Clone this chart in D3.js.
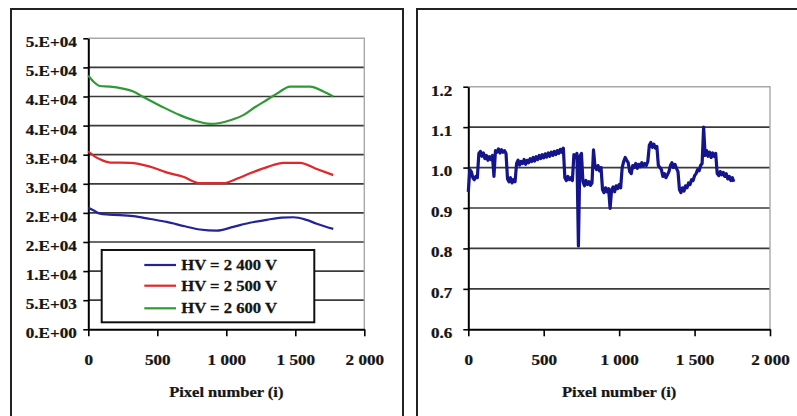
<!DOCTYPE html>
<html>
<head>
<meta charset="utf-8">
<script src="https://cdn.jsdelivr.net/npm/d3@7"></script>
<style>
  html, body { margin: 0; padding: 0; background: #fff; }
  svg { display: block; }
  text { font-family: "Liberation Serif", "Times New Roman", serif; font-weight: bold; font-size: 14px;
         fill: #151515; stroke: #151515; stroke-width: 0.25px; }
</style>
</head>
<body>
<svg id="chart" width="797" height="416"></svg>
<script>
// ---- data ----
const pixelTicks = [0, 500, 1000, 1500, 2000];
const pixelTickLabels = ["0", "500", "1 000", "1 500", "2 000"];

const countTicks = [0, 5000, 10000, 15000, 20000, 25000, 30000, 35000, 40000, 45000, 50000];
const countTickLabels = ["0.E+00", "5.E+03", "1.E+04", "2.E+04", "2.E+04", "3.E+04",
                         "3.E+04", "4.E+04", "4.E+04", "5.E+04", "5.E+04"];

const ratioTicks = [0.6, 0.7, 0.8, 0.9, 1.0, 1.1, 1.2];
const ratioTickLabels = ["0.6", "0.7", "0.8", "0.9", "1.0", "1.1", "1.2"];

const axisTitle = "Pixel number (i)";
const hvLabels = ["HV = 2 400 V", "HV = 2 500 V", "HV = 2 600 V"];

// detector response per pixel at three high-voltage settings
const hv2400Pixel = [0, 40, 85, 150, 326, 450, 568, 700, 809, 930, 1051, 1170, 1293, 1400, 1486, 1580, 1655, 1775];
const hv2400Count = [20900, 20400, 19850, 19700, 19450, 18950, 18450, 17700, 17150, 16950, 17600, 18300, 18800, 19200, 19250, 18800, 18150, 17250];

const hv2500Pixel = [0, 40, 85, 157, 302, 447, 560, 688, 809, 978, 1080, 1172, 1300, 1413, 1534, 1650, 1775];
const hv2500Count = [30600, 29800, 29200, 28650, 28600, 27950, 27000, 26200, 25100, 25100, 25900, 26800, 27900, 28600, 28600, 27600, 26500];

const hv2600Pixel = [0, 40, 85, 157, 250, 326, 399, 530, 664, 780, 882, 954, 1040, 1123, 1210, 1293, 1380, 1462, 1607, 1700, 1775];
const hv2600Count = [43600, 42500, 41800, 41700, 41350, 40850, 39900, 38300, 36800, 35800, 35300, 35450, 36000, 36800, 38200, 39400, 40700, 41700, 41700, 40900, 40000];

// pixel-to-pixel ratio, one sample every 10 pixels
const ratioStep = 10;
const ratioValues = [
  0.940, 0.995, 0.990, 0.975, 0.970, 0.978, 0.975, 1.035, 1.040, 1.028,
  1.036, 1.022, 1.030, 1.018, 1.027, 1.020, 1.030, 0.978, 1.042, 1.038,
  1.046, 1.036, 1.044, 1.038, 1.042, 1.035, 0.972, 0.965, 0.975, 0.962,
  0.970, 0.965, 1.010, 1.018, 1.006, 1.015, 1.010, 1.020, 1.008, 1.018,
  1.012, 1.022, 1.015, 1.025, 1.016, 1.027, 1.020, 1.030, 1.022, 1.032,
  1.024, 1.034, 1.026, 1.036, 1.028, 1.038, 1.030, 1.040, 1.032, 1.042,
  1.035, 1.045, 1.038, 1.048, 0.975, 0.968, 0.978, 0.970, 0.975, 0.968,
  1.032, 1.025, 1.035, 0.806, 1.028, 1.035, 0.965, 0.955, 0.968, 0.958,
  0.965, 0.956, 0.962, 1.044, 1.002, 0.995, 1.005, 0.992, 1.000, 0.945,
  0.938, 0.950, 0.940, 0.948, 0.899, 0.945, 0.952, 0.940, 0.955, 0.948,
  0.958, 0.950, 1.000, 1.015, 1.025, 1.018, 1.012, 0.990, 0.985, 1.005,
  1.000, 1.010, 0.998, 1.008, 1.002, 1.012, 1.004, 1.010, 1.005, 1.015,
  1.055, 1.062, 1.050, 1.058, 1.048, 1.052, 1.005, 1.000, 0.995, 0.978,
  0.985, 0.975, 0.982, 0.990, 1.005, 1.012, 1.000, 1.008, 0.998, 0.990,
  0.945, 0.938, 0.950, 0.942, 0.955, 0.950, 0.962, 0.958, 0.970, 0.968,
  0.980, 0.985, 0.995, 0.992, 1.005, 1.010, 1.100, 1.030, 1.042, 1.028,
  1.038, 1.025, 1.036, 1.028, 1.035, 0.985, 0.980, 0.990, 0.982, 0.988,
  0.978, 0.985, 0.972, 0.978, 0.968, 0.975, 0.965
];

// ---- styles ----
const hvColors = ["#23239a", "#e2262a", "#2f9a35"];
const ratioColor = "#14148c";
const gridColor = "#3a3a3a";
const borderColor = "#a8a8a8";
const textStretch = 1.22;

const svg = d3.select("#chart");

// panel frames
svg.append("rect").attr("x", 11).attr("y", 9).attr("width", 392).attr("height", 430)
  .attr("fill", "none").attr("stroke", "#222").attr("stroke-width", 2);
svg.append("rect").attr("x", 417).attr("y", 9).attr("width", 400).attr("height", 430)
  .attr("fill", "none").attr("stroke", "#222").attr("stroke-width", 2);

// serif labels are drawn horizontally widened about their anchor point
function widen(sel, k = textStretch) {
  sel.each(function () {
    const t = d3.select(this);
    const x = +t.attr("x") || 0;
    t.attr("x", x / k).attr("transform", `scale(${k},1)`);
  });
}

function drawFrame(g, x, y, yTicks, yLabels, yPad) {
  const [x0, x1] = x.range();
  const [yb, yt] = y.range();

  // horizontal gridlines
  g.append("g").selectAll("line").data(yTicks.slice(1, -1)).join("line")
    .attr("x1", x0).attr("x2", x1)
    .attr("y1", d => y(d)).attr("y2", d => y(d))
    .attr("stroke", gridColor).attr("stroke-width", 1.7);

  // plot border (top & right)
  g.append("path")
    .attr("d", `M${x0},${yt}H${x1}V${yb}`)
    .attr("fill", "none").attr("stroke", borderColor).attr("stroke-width", 1.4);

  // y axis
  const ya = g.append("g").attr("transform", `translate(${x0},0)`)
    .call(d3.axisLeft(y).tickValues(yTicks).tickFormat((d, i) => yLabels[i])
      .tickSize(5).tickSizeOuter(0).tickPadding(yPad));
  ya.attr("font-size", null).attr("font-family", null);
  ya.select(".domain").attr("stroke", "#000").attr("stroke-width", 2);
  ya.selectAll(".tick line").attr("stroke", "#000").attr("stroke-width", 1.6);
  ya.selectAll(".tick text").attr("dy", "0.6em").call(widen);

  // x axis
  const xa = g.append("g").attr("transform", `translate(0,${yb})`)
    .call(d3.axisBottom(x).tickValues(pixelTicks).tickFormat((d, i) => pixelTickLabels[i])
      .tickSize(7).tickSizeOuter(0).tickPadding(19));
  xa.attr("font-size", null).attr("font-family", null);
  xa.select(".domain").attr("stroke", "#000").attr("stroke-width", 2);
  xa.selectAll(".tick line").attr("stroke", "#000").attr("stroke-width", 1.6);
  xa.selectAll(".tick text").call(widen);

  g.append("text").attr("x", (x0 + x1) / 2).attr("y", 397)
    .attr("text-anchor", "middle").text(axisTitle).call(widen, 1.18);
}

// ---- left chart: counts ----
const xL = d3.scaleLinear().domain([0, 2000]).range([88.3, 364.3]);
const yL = d3.scaleLinear().domain([0, 50000]).range([329.3, 38.3]);
const gL = svg.append("g");
drawFrame(gL, xL, yL, countTicks, countTickLabels, 6.5);

const hvSeries = [
  { px: hv2400Pixel, v: hv2400Count },
  { px: hv2500Pixel, v: hv2500Count },
  { px: hv2600Pixel, v: hv2600Count }
];
const lineL = d3.line().x(d => xL(d[0])).y(d => yL(d[1])).curve(d3.curveMonotoneX);
hvSeries.forEach((s, k) => {
  gL.append("path")
    .attr("d", lineL(s.px.map((p, i) => [p, s.v[i]])))
    .attr("fill", "none").attr("stroke", hvColors[k]).attr("stroke-width", 2.2);
});

// legend
const leg = gL.append("g").attr("transform", "translate(101.7,250)");
leg.append("rect").attr("width", 212.6).attr("height", 72.3)
  .attr("fill", "#fff").attr("stroke", "#111").attr("stroke-width", 2);
const legRowY = [15, 35.7, 58.3];
hvLabels.forEach((lab, k) => {
  leg.append("line").attr("x1", 42.6).attr("x2", 74.3)
    .attr("y1", legRowY[k]).attr("y2", legRowY[k])
    .attr("stroke", hvColors[k]).attr("stroke-width", 2.2);
  leg.append("text").attr("x", 79.5).attr("y", legRowY[k] + 5).text(lab).call(widen, 1.19);
});

// ---- right chart: ratio ----
const xR = d3.scaleLinear().domain([0, 2000]).range([468.3, 770]);
const yR = d3.scaleLinear().domain([0.6, 1.2]).range([329.3, 86.7]);
const gR = svg.append("g");
drawFrame(gR, xR, yR, ratioTicks, ratioTickLabels, 11);

const lineR = d3.line().x((d, i) => xR(i * ratioStep)).y(d => yR(d));
gR.append("path")
  .attr("d", lineR(ratioValues))
  .attr("fill", "none").attr("stroke", ratioColor).attr("stroke-width", 3.2)
  .attr("stroke-linejoin", "round");
</script>
</body>
</html>
